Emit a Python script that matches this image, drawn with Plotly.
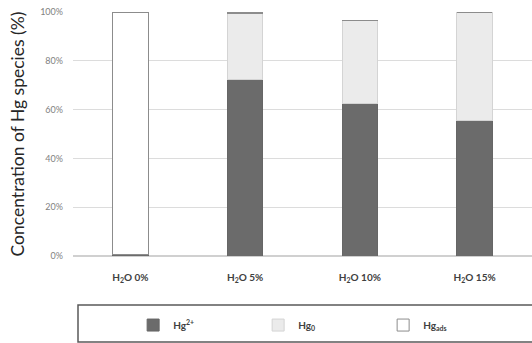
import plotly.graph_objects as go

categories = ["H2O 0%", "H2O 5%", "H2O 10%", "H2O 15%"]
tick_labels = ["<b>H<sub>2</sub>O 0%</b>", "<b>H<sub>2</sub>O 5%</b>", "<b>H<sub>2</sub>O 10%</b>", "<b>H<sub>2</sub>O 15%</b>"]
hg2_plus = [0.5, 72.2, 62.7, 55.7]
hg0 = [0.0, 27.3, 33.7, 44.3]
hg_ads = [99.5, 0.5, 0.0, 0.0]

series = [
    ("<b>Hg<sup>2+</sup></b>", hg2_plus, "#6b6b6b", "#666666"),
    ("<b>Hg<sub>0</sub></b>", hg0, "#ebebeb", "#d4d4d4"),
    ("<b>Hg<sub>ads</sub></b>", hg_ads, "#ffffff", "#8c8c8c"),
]

fig = go.Figure()
for name, vals, fill, line in series:
    fig.add_trace(go.Bar(
        x=categories, y=vals, name=name,
        marker=dict(color=fill, line=dict(color=line, width=1)),
    ))

fig.update_layout(
    width=532, height=343,
    margin=dict(l=73, r=0, t=12, b=87, autoexpand=False),
    paper_bgcolor="white", plot_bgcolor="white",
    barmode="stack", bargap=0.69,
    font=dict(family="Lato, 'Open Sans', sans-serif", color="#595959"),
    xaxis=dict(
        tickmode="array", tickvals=categories, ticktext=tick_labels,
        tickfont=dict(size=10, color="#404040"), automargin=False,
        showline=False, ticks="", showgrid=False, ticklabelstandoff=14,
    ),
    yaxis=dict(
        range=[0, 100], tickvals=[0, 20, 40, 60, 80, 100],
        ticktext=["0%", "20%", "40%", "60%", "80%", "100%"],
        tickfont=dict(size=9, color="#7f7f7f"), automargin=False,
        ticklabeloverflow="allow",
        gridcolor="#dcdcdc", gridwidth=1, zeroline=True, zerolinecolor="#d0d0d0",
        ticks="", ticklabelstandoff=9,
        title=dict(text="Concentration of Hg species (%)", font=dict(size=17.5, color="#262626"), standoff=11),
    ),
    showlegend=True,
    legend=dict(
        orientation="h", x=0.131, y=-0.283, xanchor="left", yanchor="middle",
        font=dict(size=10, color="#404040"),
        entrywidth=80, entrywidthmode="pixels",
        traceorder="normal", bgcolor="rgba(0,0,0,0)",
    ),
    shapes=[dict(
        type="rect", xref="paper", yref="paper",
        x0=5 / 459, x1=1.02, y0=-0.201, y1=-0.352,
        line=dict(color="#595959", width=1.5), fillcolor="rgba(0,0,0,0)", layer="above",
    )],
)

fig.write_html(
    "out.html",
    config={"displayModeBar": False},
    post_script="document.body.style.margin='0';document.body.style.overflow='hidden';",
)
